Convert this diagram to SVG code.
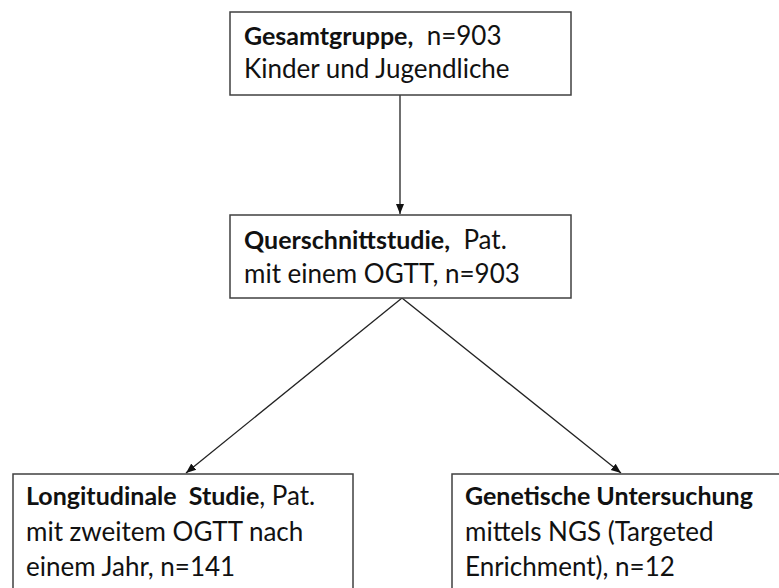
<svg xmlns="http://www.w3.org/2000/svg" width="779" height="588" viewBox="0 0 779 588">
<style>
.box{fill:#fff;stroke:#404040;stroke-width:1.5}
.t{font-family:Lato,"Open Sans","Liberation Sans",sans-serif;font-size:26px;fill:#111;white-space:pre}
.b{font-weight:bold;font-size:25px}
.c{stroke:#222;stroke-width:1.3;fill:none;marker-end:url(#ah)}
</style>
<defs>
<marker id="ah" viewBox="0 0 10 10" refX="10" refY="5" markerWidth="10" markerHeight="10" markerUnits="userSpaceOnUse" orient="auto">
<path d="M0,1 L10,5 L0,9 Z" fill="#111"/>
</marker>
</defs>
<rect width="779" height="588" fill="#fff"/>
<g id="connectors">
<line class="c" x1="400" y1="95" x2="400" y2="214"/>
<line class="c" x1="402" y1="298" x2="186" y2="473"/>
<line class="c" x1="402" y1="298" x2="621" y2="473"/>
</g>
<g id="node-gesamt">
<rect class="box" x="230" y="12" width="341" height="83"/>
<text class="t" x="244" y="45" xml:space="preserve"><tspan class="b">Gesamtgruppe,</tspan>  n=903</text>
<text class="t" x="244" y="78">Kinder und Jugendliche</text>
</g>
<g id="node-quer">
<rect class="box" x="230" y="215" width="341" height="83"/>
<text class="t" x="244" y="249" xml:space="preserve"><tspan class="b">Querschnittstudie,</tspan>  Pat.</text>
<text class="t" x="244" y="283">mit einem OGTT, n=903</text>
</g>
<g id="node-longi">
<rect class="box" x="13" y="474" width="340" height="130"/>
<text class="t" x="26" y="505" xml:space="preserve"><tspan class="b">Longitudinale  Studie</tspan>, Pat.</text>
<text class="t" x="26" y="541">mit zweitem OGTT nach</text>
<text class="t" x="26" y="576">einem Jahr, n=141</text>
</g>
<g id="node-genetik">
<rect class="box" x="452" y="474" width="340" height="130"/>
<text class="t" x="465" y="505"><tspan class="b">Genetische Untersuchung</tspan></text>
<text class="t" x="465" y="541">mittels NGS (Targeted</text>
<text class="t" x="465" y="576">Enrichment), n=12</text>
</g>
</svg>
